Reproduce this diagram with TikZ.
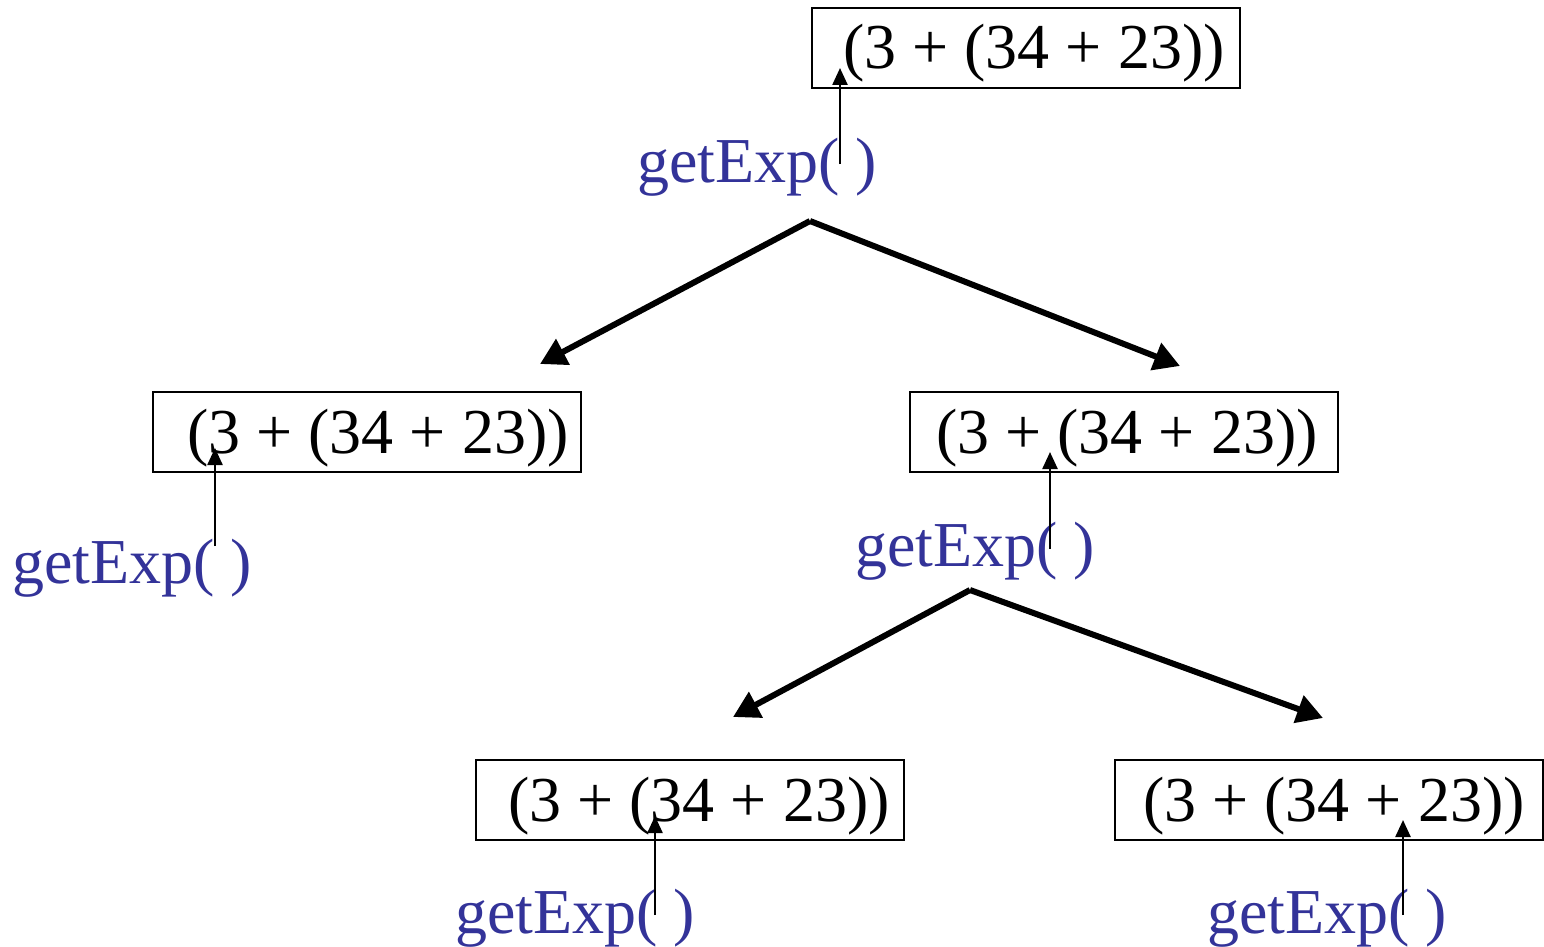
\documentclass[tikz,border=0pt]{standalone}
\usepackage{fontspec}
\setmainfont{Liberation Serif}
\usetikzlibrary{arrows.meta}
\definecolor{callblue}{HTML}{333399}
\tikzset{
  exprbox/.style={draw=black, line width=2pt, rectangle, minimum width=428pt, minimum height=80pt, inner sep=0pt},
  exprtext/.style={anchor=base west, inner sep=0pt, font=\fontsize{64}{72}\selectfont, text=black},
  calltext/.style={anchor=base west, inner sep=0pt, font=\fontsize{64}{72}\selectfont, text=callblue},
  ptr/.style={line width=2.4pt, -{Triangle[width=15pt,length=17pt]}},
  split/.style={line width=6pt, -{Triangle[width=28pt,length=26pt]}}
}
\begin{document}
\begin{tikzpicture}[x=1pt,y=-1pt]
\useasboundingbox (0,0) rectangle (1544,947);
% boxes
\node[exprbox] (b1) at (1026,48) {};
\node[exprbox] (b2) at (366.5,432) {};
\node[exprbox] (b3) at (1123.5,432) {};
\node[exprbox] (b4) at (689.5,800) {};
\node[exprbox] (b5) at (1329,800) {};
% expression texts
\node[exprtext] (t1) at (843,69) {(3 + (34 + 23))};
\node[exprtext] (t2) at (187,453) {(3 + (34 + 23))};
\node[exprtext] (t3) at (936,453) {(3 + (34 + 23))};
\node[exprtext] (t4) at (508,821) {(3 + (34 + 23))};
\node[exprtext] (t5) at (1143,821) {(3 + (34 + 23))};
% calls
\node[calltext] (g1) at (637,182) {getExp( )};
\node[calltext] (g2) at (12,583) {getExp( )};
\node[calltext] (g3) at (855,566) {getExp( )};
\node[calltext] (g4) at (455,933) {getExp( )};
\node[calltext] (g5) at (1207,933) {getExp( )};
% pointer coordinates
\coordinate (p1s) at (840,164); \coordinate (p1e) at (840,68);
\coordinate (p2s) at (215,546); \coordinate (p2e) at (215,448);
\coordinate (p3s) at (1050,549); \coordinate (p3e) at (1050,452);
\coordinate (p4s) at (655,915); \coordinate (p4e) at (655,816);
\coordinate (p5s) at (1403,915); \coordinate (p5e) at (1403,820);
\draw[ptr] (p1s) -- (p1e);
\draw[ptr] (p2s) -- (p2e);
\draw[ptr] (p3s) -- (p3e);
\draw[ptr] (p4s) -- (p4e);
\draw[ptr] (p5s) -- (p5e);
% splits
\coordinate (s1) at (810,221);
\coordinate (s1l) at (540,364);
\coordinate (s1r) at (1180,366);
\coordinate (s2) at (970,590);
\coordinate (s2l) at (733,717);
\coordinate (s2r) at (1323,718);
\draw[split] (s1) -- (s1l);
\draw[split] (s1) -- (s1r);
\draw[split] (s2) -- (s2l);
\draw[split] (s2) -- (s2r);
\end{tikzpicture}
\end{document}
